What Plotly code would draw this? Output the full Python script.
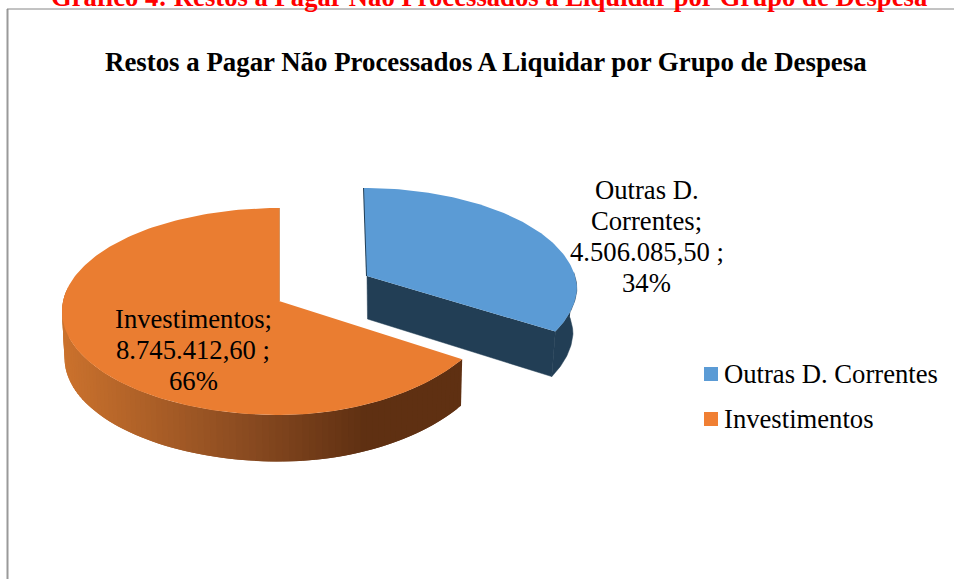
import numpy as np
import plotly.graph_objects as go

CATEGORIES = ["Outras D. Correntes", "Investimentos"]
VALUES = [4506085.50, 8745412.60]
CHART_TITLE = "Restos a Pagar Não Processados A Liquidar por Grupo de Despesa"
PAGE_TITLE = "Gráfico 4: Restos a Pagar Não Processados a Liquidar por Grupo de Despesa"

FONT = "Liberation Serif"
FONT_SIZE = 26.67
LINE_STEP = 31
BLUE = "#5B9BD5"
BLUE_DARK = "#223E55"
ORANGE = "#EA7D31"
LEGEND_ORANGE = "#F07F33"

# Pixel geometry of the tilted pie: top ellipse, bottom ellipse and apex of each slice
GEOM_BLUE = dict(top=(364, 290, 213, 102), bottom=(364, 335, 209, 102),
                 apex=(367, 276), apex_low=(367.5, 319), sag=4, warp=0.948)
GEOM_ORANGE = dict(top=(279, 311.5, 217, 103.5), bottom=(279.5, 358, 215, 103.5),
                   apex=(279, 301), sag=11, warp=1.0)


def rim(theta, ellipse, sag):
    """Screen position of angles measured clockwise from 12 o'clock."""
    cx, cy, rx, ry = ellipse
    t = np.radians(theta)
    lower_right = (theta > 90) & (theta < 180)
    return cx + rx * np.sin(t), cy - ry * np.cos(t) - sag * np.sin(t) ** 2 * lower_right


def polygon(x, y, color, width=0):
    return go.Scatter(x=x, y=y, mode="lines", fill="toself", fillcolor=color,
                      line=dict(color=color, width=width),
                      hoverinfo="skip", showlegend=False)


def side_color(x):
    # horizontal shading of the orange wall, light on the left, dark from the middle on
    stops_x = [62, 240, 365]
    r = np.interp(x, stops_x, [203, 140, 95])
    g = np.interp(x, stops_x, [114, 76, 48])
    b = np.interp(x, stops_x, [45, 33, 18])
    return f"rgb({r:.0f},{g:.0f},{b:.0f})"


def brl(value):
    return f"{value:,.2f}".replace(",", "X").replace(".", ",").replace("X", ".")


def add_text(fig, text, x, y, anchor="center", color="#000000", size=FONT_SIZE, shift=0):
    fig.add_annotation(x=x, y=y, yshift=shift, text=text, showarrow=False, xanchor=anchor,
                       yanchor="middle", font=dict(family=FONT, size=size, color=color))


total = sum(VALUES)
blue_span = VALUES[0] / total * 360

fig = go.Figure()

# Blue slice, wall first then top face
g = GEOM_BLUE
blue_end = blue_span * g["warp"]
arc = np.linspace(80, blue_end, 50)
tx, ty = rim(arc, g["top"], g["sag"])
bx, by = rim(arc, g["bottom"], g["sag"])
fig.add_trace(polygon(np.r_[tx, bx[::-1]], np.r_[ty, by[::-1]], BLUE_DARK, width=0.5))
fig.add_trace(polygon([g["apex"][0], g["apex_low"][0], bx[-1], tx[-1]],
                      [g["apex"][1], g["apex_low"][1], by[-1], ty[-1]], BLUE_DARK, width=0.5))
arc = np.linspace(0, blue_end, 100)
tx, ty = rim(arc, g["top"], g["sag"])
fig.add_trace(go.Scatter(x=[tx[0], g["apex"][0]], y=[ty[0], g["apex"][1]], mode="lines",
                         line=dict(color=BLUE_DARK, width=2),
                         hoverinfo="skip", showlegend=False))
fig.add_trace(polygon(np.r_[g["apex"][0], tx], np.r_[g["apex"][1], ty], BLUE))

# Orange slice, wall cut in overlapping strips for the gradient
g = GEOM_ORANGE
edges = np.linspace(blue_span, 282, 91)
step = edges[1] - edges[0]
for a0 in edges[:-1]:
    pair = np.linspace(a0, a0 + 2 * step, 5)
    tx, ty = rim(pair, g["top"], g["sag"])
    bx, by = rim(pair, g["bottom"], g["sag"])
    fig.add_trace(polygon(np.r_[tx, bx[::-1]], np.r_[ty, by[::-1]], side_color(tx[:3].mean())))
arc = np.linspace(blue_span, 360, 200)
tx, ty = rim(arc, g["top"], g["sag"])
fig.add_trace(go.Scatter(x=[tx[-1], g["apex"][0]], y=[ty[-1], g["apex"][1]], mode="lines",
                         line=dict(color="#C8702B", width=1.5),
                         hoverinfo="skip", showlegend=False))
fig.add_trace(polygon(np.r_[g["apex"][0], tx], np.r_[g["apex"][1], ty], ORANGE))

# Legend as square markers with their text
for name, color, ypos in zip(CATEGORIES, [BLUE, LEGEND_ORANGE], [374, 419]):
    fig.add_trace(go.Scatter(x=[711], y=[ypos], mode="markers",
                             marker=dict(symbol="square", size=14, color=color),
                             hoverinfo="skip", showlegend=False, cliponaxis=False))
    add_text(fig, name, 721.5, ypos, anchor="left")

# Frame of the chart area
fig.add_shape(type="line", x0=7.5, x1=7.5, y0=9, y1=579, line=dict(color="#9a9a9a", width=2))
fig.add_shape(type="line", x0=7, x1=954, y0=9, y1=9, line=dict(color="#868686", width=1))

# Data labels, one annotation per line for the tight line spacing of the original
label_blue = ["Outras D.", "Correntes;", f"{brl(VALUES[0])} ;", f"{VALUES[0] / total:.0%}"]
label_orange = ["Investimentos;", f"{brl(VALUES[1])} ;", f"{VALUES[1] / total:.0%}"]
for lines, x, y in ((label_blue, 646.5, 190), (label_orange, 193, 319)):
    for i, line in enumerate(lines):
        add_text(fig, line, x, y + i * LINE_STEP)

# Caption of the page, cut by the top edge of the picture
add_text(fig, f"<b>{PAGE_TITLE}</b>", 489, 1, color="#FF0000", shift=4)
add_text(fig, f"<b>{CHART_TITLE}</b>", 485.5, 62, size=26.85)

fig.update_layout(
    width=954, height=579,
    margin=dict(l=0, r=0, t=0, b=0),
    paper_bgcolor="white", plot_bgcolor="white",
    showlegend=False,
    xaxis=dict(range=[0, 954], visible=False),
    yaxis=dict(range=[579, 0], visible=False))

fig.write_html("out.html", config=dict(displayModeBar=False),
               post_script="document.body.style.margin='0';document.body.style.overflow='hidden';")
